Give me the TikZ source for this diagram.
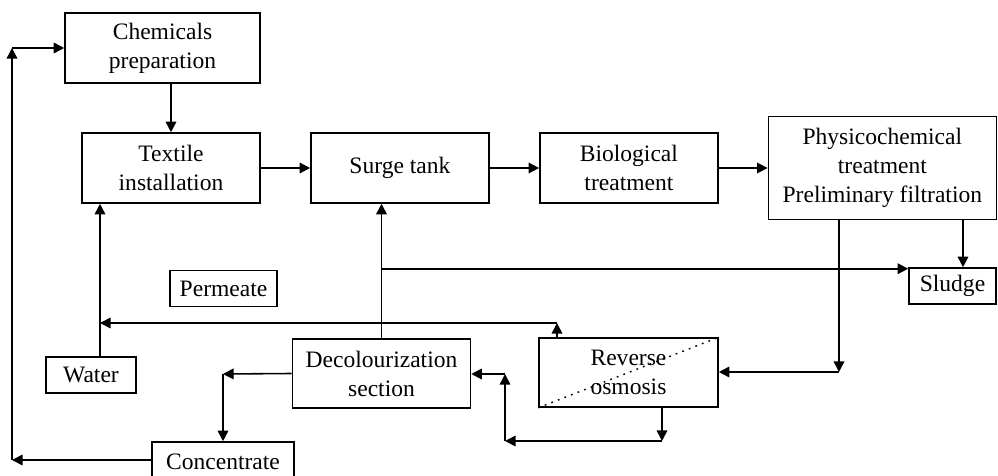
\documentclass[tikz,border=0pt]{standalone}
\usepackage{fontspec}
\setmainfont{Liberation Serif}
\usepackage{tikz}
\usetikzlibrary{arrows.meta, positioning}
\tikzstyle{process} = [rectangle, draw=black, line width=0.9pt, text centered, align=center, inner sep=2pt, font=\fontsize{13.4}{16.5}\selectfont]
\tikzstyle{bigbox} = [process, minimum width=3.56cm, minimum height=1.4cm]
\tikzstyle{smallbox} = [process, minimum height=0.72cm]
\tikzstyle{arrow} = [line width=0.9pt, ->, >={Triangle[length=6pt,width=6pt]}]

\begin{document}
\begin{tikzpicture}[x=0.02cm, y=-0.02cm, node distance=4.58cm]
\clip (0,0) rectangle (998,476);

\node (textile) [bigbox] at (171,168) {Textile\\installation};
\node (surge) [bigbox, right of=textile] {Surge tank};
\node (bio) [bigbox, right of=surge] {Biological\\treatment};
\node (phys) [process, minimum width=4.56cm, minimum height=2.06cm, right of=bio, xshift=0.49cm] {Physicochemical\\treatment\\Preliminary filtration};
\node (chem) [bigbox, minimum width=3.9cm] at (162.5,48) {Chemicals\\preparation};
\node (sludge) [smallbox, minimum width=1.74cm] at (952.5,286) {Sludge};
\node (permeate) [smallbox, minimum width=2.14cm] at (223.5,288.5) {Permeate};
\node (water) [smallbox, minimum width=1.8cm] at (91,375) {Water};
\node (decol) [bigbox, minimum height=1.38cm] at (381.5,373.5) {Decolourization\\section};
\node (ro) [bigbox, minimum width=3.58cm, minimum height=1.38cm] at (628.5,372.5) {Reverse\\osmosis};
\node (conc) [process, minimum width=2.84cm, minimum height=0.8cm] at (223,462) {Concentrate};

\draw [dash pattern=on 1pt off 3pt, line width=0.8pt] (ro.south west) -- (ro.north east);

% corners of the return lines
\coordinate (pr) at (839,372);
\coordinate (rp) at (557,323);
\coordinate (wt) at (100,323);
\coordinate (dc) at (223,374);
\coordinate (cl) at (12,460);
\coordinate (ct) at (12,48);
\coordinate (rb) at (662,441);
\coordinate (ld) at (505,441);
\coordinate (lu) at (505,374);

\draw [arrow] (chem.south -| textile.north) -- (textile.north);
\draw [arrow] (textile.east) -- (surge.west);
\draw [arrow] (surge.east) -- (bio.west);
\draw [arrow] (bio.east) -- (phys.west);
\draw [arrow] ([xshift=0.21cm]sludge.north |- phys.south) -- ([xshift=0.21cm]sludge.north);
\draw [arrow] (phys.south -| pr) -- (pr);
\draw [arrow] (pr) -- (pr -| ro.east);
\draw [arrow] (decol.north) -- (decol.north |- surge.south);
\draw [arrow] ([yshift=-0.03cm]decol.north |- sludge.north west) -- ([yshift=-0.03cm]sludge.north west);
\draw [arrow] (rp |- ro.north) -- (rp);
\draw [arrow] (rp) -- (wt);
\draw [arrow] (wt |- water.north) -- (wt |- textile.south);
\draw [arrow] (decol.west) -- (dc);
\draw [arrow] (dc) -- (dc |- conc.north);
\draw [arrow] (conc.west |- cl) -- (cl);
\draw [arrow] (cl) -- (ct);
\draw [arrow] (ct) -- (chem.west);
\draw [arrow] (rb |- ro.south) -- (rb);
\draw [arrow] (rb) -- (ld);
\draw [arrow] (ld) -- (lu);
\draw [arrow] (lu) -- (decol.east |- lu);

\end{tikzpicture}
\end{document}
